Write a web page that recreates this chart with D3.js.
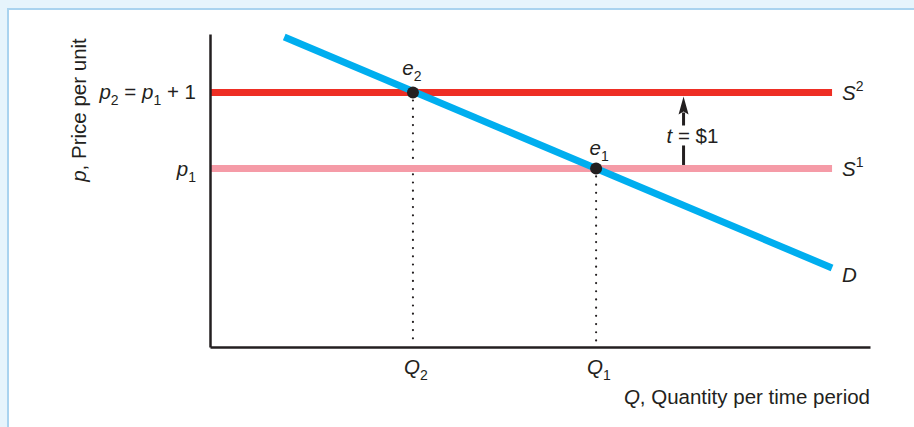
<!DOCTYPE html>
<html>
<head>
<meta charset="utf-8">
<script src="https://cdn.jsdelivr.net/npm/d3@7"></script>
<style>
  body { margin: 0; background: #e6f4fc; }
  svg { display: block; font-family: "Liberation Sans", Arial, sans-serif; font-size: 20.5px; fill: #231f20; }
</style>
</head>
<body>
<div id="chart"></div>
<script>
// prices p1 and p2 = p1 + t
const priceLevels = [2.35, 3.35];
const supplyNames = ['1', '2'];
const supplyColors = ['#f59ba7', '#ee2e24'];
const supplyEndQ = 7.54;

// demand curve end points
const demandQ = [0.9, 7.54];
const demandP = [4.08, 1.04];

// equilibria e1, e2
const eqNames = ['1', '2'];
const eqQ = [4.68, 2.46];
const eqP = [2.35, 3.35];

const taxQ = 5.74;

const width = 914, height = 427;

const svg = d3.select('#chart')
  .append('svg')
  .attr('width', width)
  .attr('height', height);

// panel
svg.append('rect')
  .attr('x', 8).attr('y', 9)
  .attr('width', width).attr('height', height)
  .attr('fill', '#ffffff')
  .attr('stroke', '#a9d3ef')
  .attr('stroke-width', 2);

const x = d3.scaleLinear().domain([0, 8]).range([210, 870]);
const y = d3.scaleLinear().domain([0, 4.12]).range([347, 34]);

// text with italic / sub / sup parts
function rich(g, parts, px, py, anchor) {
  const t = g.append('text').attr('x', px).attr('y', py).attr('text-anchor', anchor || 'start');
  let off = 0;
  parts.forEach(p => {
    const s = t.append('tspan').text(p.t);
    if (p.i) s.style('font-style', 'italic');
    let target = 0;
    if (p.sub) target = 6;
    if (p.sup) target = -9;
    if (p.sub || p.sup) s.style('font-size', '14px');
    if (target !== off) { s.attr('dy', target - off); off = target; }
  });
  return t;
}

// dotted drop lines
svg.append('g')
  .selectAll('line')
  .data(eqQ)
  .join('line')
  .attr('x1', d => x(d)).attr('x2', d => x(d))
  .attr('y1', (d, i) => y(eqP[i]) + 8)
  .attr('y2', y(0) - 1)
  .attr('stroke', '#231f20')
  .attr('stroke-width', 2.2)
  .attr('stroke-linecap', 'round')
  .attr('stroke-dasharray', '0 8.2');

// supply lines
svg.append('g')
  .selectAll('line')
  .data(priceLevels)
  .join('line')
  .attr('x1', x(0)).attr('x2', x(supplyEndQ))
  .attr('y1', d => y(d)).attr('y2', d => y(d))
  .attr('stroke', (d, i) => supplyColors[i])
  .attr('stroke-width', 7);

// demand
svg.append('line')
  .attr('x1', x(demandQ[0])).attr('y1', y(demandP[0]))
  .attr('x2', x(demandQ[1])).attr('y2', y(demandP[1]))
  .attr('stroke', '#00aeef')
  .attr('stroke-width', 7);

// axes
svg.append('g')
  .attr('transform', `translate(${x(0)},0)`)
  .call(d3.axisLeft(y).tickValues([]).tickSizeOuter(0))
  .select('.domain').attr('stroke', '#231f20').attr('stroke-width', 2.5);

svg.append('g')
  .attr('transform', `translate(0,${y(0)})`)
  .call(d3.axisBottom(x).tickValues([]).tickSizeOuter(0))
  .select('.domain').attr('stroke', '#231f20').attr('stroke-width', 2.5);

// equilibrium dots
svg.append('g')
  .selectAll('circle')
  .data(eqQ)
  .join('circle')
  .attr('cx', d => x(d))
  .attr('cy', (d, i) => y(eqP[i]))
  .attr('r', 6)
  .attr('fill', '#231f20');

// tax arrow
const ax = x(taxQ);
svg.append('line')
  .attr('x1', ax).attr('x2', ax)
  .attr('y1', y(priceLevels[0]) - 3.5).attr('y2', y(priceLevels[0]) - 23)
  .attr('stroke', '#231f20').attr('stroke-width', 3);
svg.append('line')
  .attr('x1', ax).attr('x2', ax)
  .attr('y1', y(priceLevels[1]) + 20).attr('y2', y(priceLevels[1]) + 33)
  .attr('stroke', '#231f20').attr('stroke-width', 3);
svg.append('path')
  .attr('d', `M${ax},${y(priceLevels[1]) + 4} L${ax - 5},${y(priceLevels[1]) + 22} L${ax},${y(priceLevels[1]) + 19} L${ax + 5},${y(priceLevels[1]) + 22} Z`)
  .attr('fill', '#231f20');

const labels = svg.append('g');

rich(labels, [{ t: 't', i: true }, { t: ' = $1' }], ax - 17, y(priceLevels[0]) - 25);

// y tick labels
rich(labels, [{ t: 'p', i: true }, { t: '2', sub: true }, { t: ' = ' }, { t: 'p', i: true }, { t: '1', sub: true }, { t: ' + 1' }], 196, y(priceLevels[1]) + 7, 'end');
rich(labels, [{ t: 'p', i: true }, { t: '1', sub: true }], 196, y(priceLevels[0]) + 8, 'end');

// supply names
priceLevels.forEach((p, i) => {
  rich(labels, [{ t: 'S', i: true }, { t: supplyNames[i], sup: true }], x(supplyEndQ) + 10, y(p) + 8);
});
rich(labels, [{ t: 'D', i: true }], x(demandQ[1]) + 10, y(demandP[1]) + 14);

// equilibrium labels and Q ticks
eqQ.forEach((q, i) => {
  rich(labels, [{ t: 'e', i: true }, { t: eqNames[i], sub: true }], x(q) + (i === 0 ? 3 : -1), y(eqP[i]) - (i === 0 ? 13 : 17), 'middle');
  rich(labels, [{ t: 'Q', i: true }, { t: eqNames[i], sub: true }], x(q) - 9, y(0) + 27);
});

// axis titles
rich(labels, [{ t: 'Q', i: true }, { t: ', Quantity per time period' }], x(8), y(0) + 57, 'end');
rich(labels, [{ t: 'p', i: true }, { t: ', Price per unit' }], 0, 0, 'middle')
  .attr('transform', 'translate(86,110) rotate(-90)');
</script>
</body>
</html>
